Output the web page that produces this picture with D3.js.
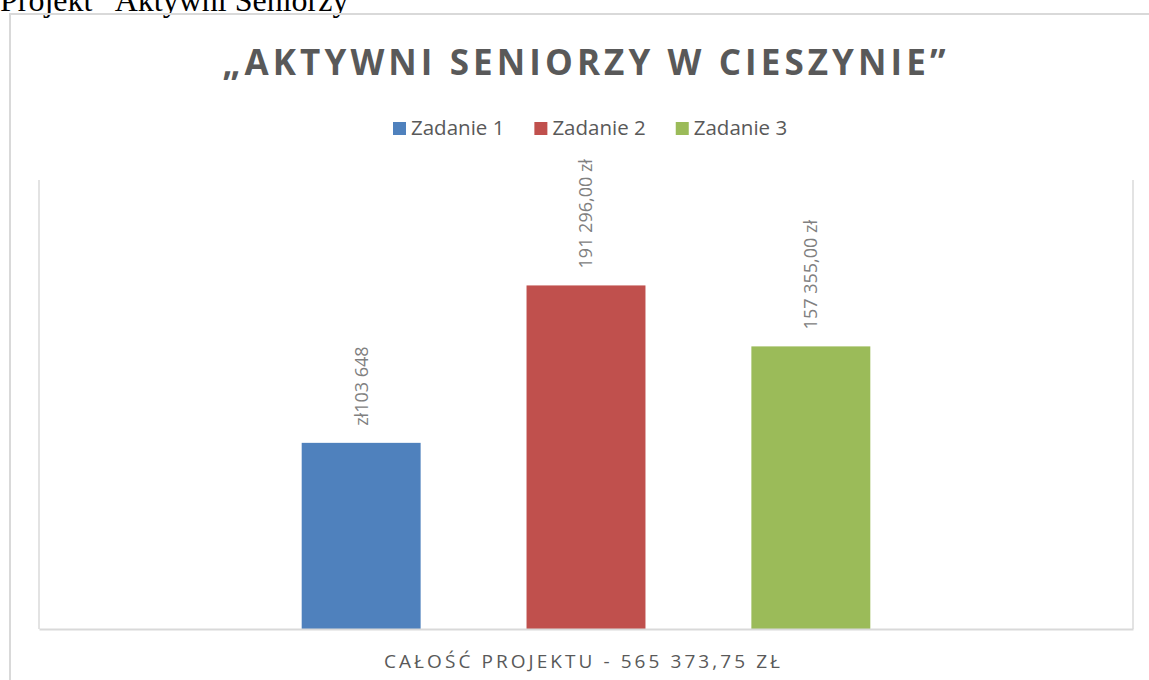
<!DOCTYPE html>
<html><head><meta charset="utf-8">
<script src="https://cdn.jsdelivr.net/npm/d3@7"></script>
<style>
html,body{margin:0;padding:0;background:#fff;overflow:hidden;}
svg{display:block;}
</style></head>
<body>
<svg id="chart" width="1149" height="680"></svg>
<script>
const pageHeading = "Projekt \u201cAktywni Seniorzy";
const chartTitle = "\u201eAKTYWNI SENIORZY W CIESZYNIE\u201d";
const categories = ["CAŁOŚĆ PROJEKTU - 565 373,75 ZŁ"];
const seriesNames = ["Zadanie 1", "Zadanie 2", "Zadanie 3"];
const seriesValues = [103648, 191296, 157355];
const valueLabels = ["zł103 648", "191 296,00 zł", "157 355,00 zł"];
const seriesColors = ["#4f81bd", "#c0504d", "#9bbb59"];
const yMax = 250000;

const svg = d3.select("#chart");
const W = 1149, H = 680;
const plot = {left: 39, right: 1133, top: 180, bottom: 629};
const narrow = "'Liberation Sans Narrow', 'Open Sans', sans-serif";

// page heading (cut off at top, as in the reference)
svg.append("text").attr("x", 0).attr("y", 11)
  .attr("font-family", "'Liberation Serif', 'Times New Roman', serif")
  .attr("font-size", 32).attr("fill", "#000").text(pageHeading);

// outer chart frame
svg.append("rect").attr("x", 10).attr("y", 14).attr("width", W + 20).attr("height", H + 20)
  .attr("fill", "none").attr("stroke", "#d9d9d9").attr("stroke-width", 2);

// title
svg.append("text").attr("x", 584).attr("y", 75).attr("text-anchor", "middle")
  .attr("font-family", narrow).attr("font-weight", "bold")
  .attr("font-size", 35).attr("fill", "#595959")
  .attr("textLength", 723).attr("lengthAdjust", "spacing")
  .text(chartTitle);

// scales
const x0 = d3.scaleBand().domain(categories).range([plot.left, plot.right]).padding(0.316);
const x1 = d3.scaleBand().domain(seriesNames).range([0, x0.bandwidth()]).paddingInner(0.471).paddingOuter(0);
const y = d3.scaleLinear().domain([0, yMax]).range([plot.bottom, plot.top]);

// plot area side lines
svg.append("line").attr("x1", plot.left).attr("x2", plot.left).attr("y1", plot.top).attr("y2", plot.bottom)
  .attr("stroke", "#e3e3e3").attr("stroke-width", 2);
svg.append("line").attr("x1", plot.right).attr("x2", plot.right).attr("y1", plot.top).attr("y2", plot.bottom)
  .attr("stroke", "#e3e3e3").attr("stroke-width", 2);

// bars
const data = seriesNames.map((s, i) => ({cat: categories[0], s, v: seriesValues[i], label: valueLabels[i], c: seriesColors[i]}));
const g = svg.append("g");
g.selectAll("rect.bar").data(data).join("rect").attr("class", "bar")
  .attr("x", d => x0(d.cat) + x1(d.s)).attr("width", x1.bandwidth())
  .attr("y", d => y(d.v)).attr("height", d => y(0) - y(d.v))
  .attr("fill", d => d.c);

// value labels
g.selectAll("text.lbl").data(data).join("text").attr("class", "lbl")
  .attr("transform", d => `translate(${x0(d.cat) + x1(d.s) + x1.bandwidth() / 2},${y(d.v) - 17}) rotate(-90)`)
  .attr("dy", "0.36em").attr("text-anchor", "start")
  .attr("font-family", "'Open Sans', sans-serif").attr("font-size", 18).attr("fill", "#808080")
  .text(d => d.label);

// x axis
const xAxis = svg.append("g").attr("transform", `translate(0,${plot.bottom})`)
  .call(d3.axisBottom(x0).tickSize(0).tickPadding(26));
xAxis.select(".domain").attr("stroke", "#d9d9d9").attr("stroke-width", 2);
xAxis.selectAll(".tick text")
  .attr("font-family", narrow).attr("font-size", 19).attr("fill", "#595959")
  .attr("textLength", 396).attr("lengthAdjust", "spacing")
  .attr("x", 582 - (x0(categories[0]) + x0.bandwidth() / 2));

// legend
const legend = svg.append("g");
let lx = 393;
seriesNames.forEach((s, i) => {
  const item = legend.append("g");
  item.append("rect").attr("x", lx).attr("y", 122).attr("width", 13).attr("height", 13).attr("fill", seriesColors[i]);
  const t = item.append("text").attr("x", lx + 18).attr("y", 135)
    .attr("font-family", "'Open Sans', sans-serif").attr("font-size", 20.5).attr("fill", "#595959").text(s);
  lx += 18 + t.node().getComputedTextLength() + 30;
});
</script>
</body></html>
